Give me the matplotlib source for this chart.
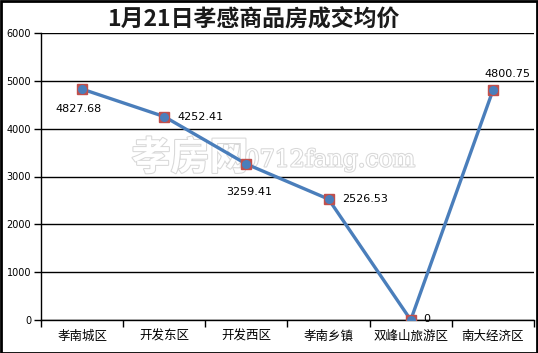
import matplotlib
matplotlib.use("Agg")
import matplotlib.pyplot as plt
import matplotlib.patheffects as pe
from matplotlib.patches import Rectangle

plt.rcParams['font.family'] = ['Noto Sans CJK SC', 'DejaVu Sans']

categories = ["孝南城区", "开发东区", "开发西区", "孝南乡镇", "双峰山旅游区", "南大经济区"]
values = [4827.68, 4252.41, 3259.41, 2526.53, 0, 4800.75]
labels = ["4827.68", "4252.41", "3259.41", "2526.53", "0", "4800.75"]
yticks = [0, 1000, 2000, 3000, 4000, 5000, 6000]
title = "1月21日孝感商品房成交均价"

W, H = 538, 353
fig = plt.figure(figsize=(W / 100, H / 100), dpi=100)
ax = fig.add_axes([41 / W, 1 - 320 / H, (534 - 41) / W, (320 - 33) / H])

x = list(range(len(categories)))
ax.plot(x, values, color='#4a7ebb', lw=2.4, zorder=3, solid_capstyle='round')
ax.plot(x, values, ls='none', marker='s', ms=7.5, mfc='#c0504d', mec='#c0504d', zorder=4)
ax.plot(x, values, ls='none', marker='o', ms=5.5, mfc='#4a7ebb', mec='#4a7ebb', zorder=5)

ax.set_xlim(-0.5, len(categories) - 0.5)
ax.set_ylim(0, 6000)
ax.set_yticks(yticks)
ax.set_yticklabels([str(v) for v in yticks], fontsize=7, family='DejaVu Sans')
ax.set_xticks([i - 0.5 for i in range(len(categories) + 1)], minor=False)
ax.set_xticklabels([])
ax.set_xticks(x, minor=True)
ax.set_xticklabels(categories, minor=True, fontsize=9)
ax.tick_params(axis='x', which='minor', length=0, pad=7)
ax.tick_params(axis='x', which='major', length=5, width=1, direction='out', color='black')
ax.tick_params(axis='y', length=5, width=1, direction='out', pad=2)
ax.yaxis.grid(True, color='black', lw=1)
ax.set_axisbelow(True)
for s in ['top', 'right']:
    ax.spines[s].set_visible(False)
for s in ['left', 'bottom']:
    ax.spines[s].set_color('black')
    ax.spines[s].set_linewidth(1)

# data labels
offsets = [(-4, -20, 'center'), (13, 0, 'left'), (3, -28, 'center'), (14, 0, 'left'), (13, 1, 'left'), (15, 16, 'center')]
for xi, v, lab, (dx, dy, ha) in zip(x, values, labels, offsets):
    ax.annotate(lab, (xi, v), xytext=(dx, dy), textcoords='offset pixels',
                ha=ha, va='center', fontsize=8, family='DejaVu Sans', zorder=6, annotation_clip=False)

# watermark (under the line)
ax.text(190 / W, 1 - 158 / H, "孝房网", transform=fig.transFigure, fontsize=28, color='white',
        ha='center', va='center', fontweight='bold',
        path_effects=[pe.withStroke(linewidth=1.5, foreground='#d8d8d8')], zorder=2)
ax.text(330 / W, 1 - 160 / H, "0712fang.com", transform=fig.transFigure, fontsize=17, color='white',
        ha='center', va='center', family='DejaVu Serif',
        path_effects=[pe.withStroke(linewidth=1.5, foreground='#d8d8d8')], zorder=2)

fig.text(253 / W, 1 - 19 / H, title, fontsize=16.5, fontweight='bold', ha='center', va='center', color='#1a1a1a')

fig.patches.append(Rectangle((0.5 / W, 0.5 / H), (W - 1.5) / W, (H - 1.5) / H, transform=fig.transFigure,
                             fill=False, ec='black', lw=2))

fig.savefig("out.png", dpi=100)
